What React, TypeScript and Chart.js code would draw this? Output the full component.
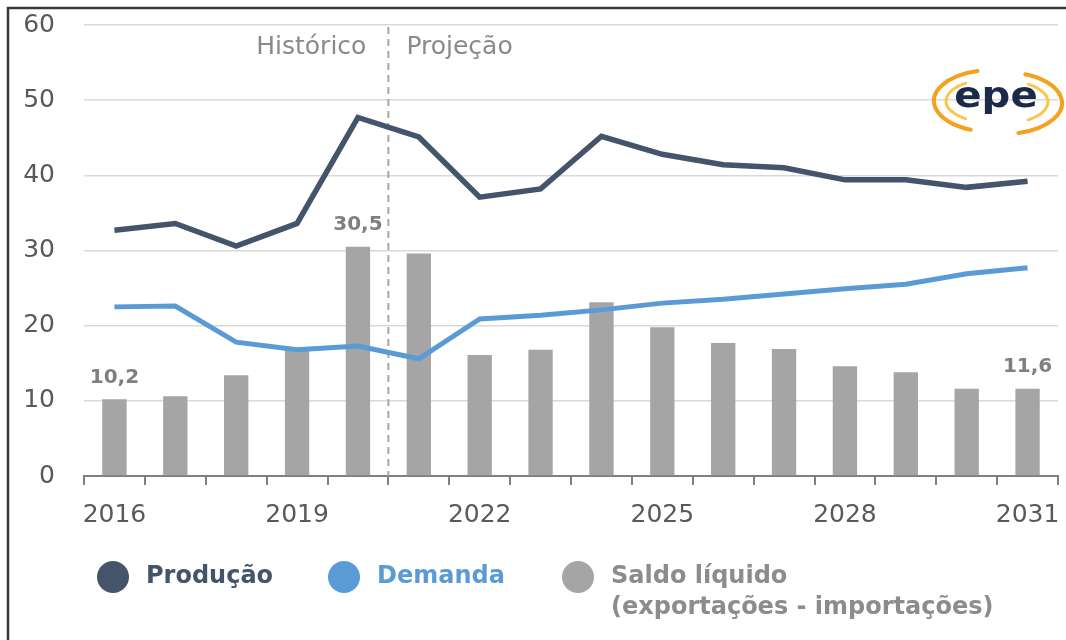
import React, { useEffect, useRef } from 'react';
import { Chart, registerables } from 'chart.js';

Chart.register(...registerables);

const years = ['2016', '2017', '2018', '2019', '2020', '2021', '2022', '2023', '2024', '2025', '2026', '2027', '2028', '2029', '2030', '2031'];
const producao = [32.7, 33.6, 30.6, 33.6, 47.7, 45.1, 37.1, 38.2, 45.2, 42.8, 41.4, 41.0, 39.4, 39.4, 38.4, 39.2];
const demanda = [22.5, 22.6, 17.8, 16.8, 17.3, 15.6, 20.9, 21.4, 22.1, 23.0, 23.5, 24.2, 24.9, 25.5, 26.9, 27.7];
const saldo = [10.2, 10.6, 13.4, 16.8, 30.5, 29.6, 16.1, 16.8, 23.1, 19.8, 17.7, 16.9, 14.6, 13.8, 11.6, 11.6];
const labeledBars = [0, 4, 15];
const seriesNames = ['Produção', 'Demanda', 'Saldo líquido', '(exportações - importações)'];
const periodLabels = ['Histórico', 'Projeção'];
const yMin = 0;
const yMax = 60;
const yStep = 10;

const C_PROD = '#44546a';
const C_DEM = '#5b9bd5';
const C_SALDO = '#a5a5a5';
const FONT = '"DejaVu Sans", sans-serif';

function drawLogo(ctx: CanvasRenderingContext2D) {
  const cx = 996;
  const cy = 101;
  ctx.save();
  ctx.lineCap = 'round';
  ctx.strokeStyle = '#f4a11d';
  ctx.lineWidth = 4;
  ctx.beginPath();
  ctx.ellipse(cx - 4, cy, 58, 31, 0, Math.PI * 1.42, Math.PI * 0.62, true);
  ctx.stroke();
  ctx.beginPath();
  ctx.ellipse(cx + 8, cy + 2, 58, 31, 0, Math.PI * 0.42, Math.PI * 1.62, true);
  ctx.stroke();
  ctx.strokeStyle = '#f9c74f';
  ctx.lineWidth = 3;
  ctx.beginPath();
  ctx.ellipse(cx - 2, cy, 48, 22, 0, Math.PI * 1.3, Math.PI * 0.7, true);
  ctx.stroke();
  ctx.beginPath();
  ctx.ellipse(cx + 4, cy + 1, 48, 22, 0, Math.PI * 0.3, Math.PI * 1.7, true);
  ctx.stroke();
  ctx.fillStyle = '#1c2a4a';
  ctx.font = 'bold 35px ' + FONT;
  ctx.textAlign = 'center';
  ctx.textBaseline = 'middle';
  ctx.save();
  ctx.translate(cx, cy - 3);
  ctx.scale(1.15, 1);
  ctx.fillText('epe', 0, 0);
  ctx.restore();
  ctx.restore();
}

const overlayPlugin = {
  id: 'overlay',
  beforeDatasetsDraw(chart: any) {
    const ctx: CanvasRenderingContext2D = chart.ctx;
    const x = chart.scales.x;
    const area = chart.chartArea;
    const lx = (x.getPixelForValue(4) + x.getPixelForValue(5)) / 2;
    ctx.save();
    ctx.strokeStyle = '#a6a6a6';
    ctx.lineWidth = 2;
    ctx.setLineDash([7, 5]);
    ctx.beginPath();
    ctx.moveTo(lx, area.top + 2);
    ctx.lineTo(lx, area.bottom);
    ctx.stroke();
    ctx.restore();
  },
  afterDraw(chart: any) {
    const ctx: CanvasRenderingContext2D = chart.ctx;
    const x = chart.scales.x;
    const y = chart.scales.y;
    const area = chart.chartArea;
    const lx = (x.getPixelForValue(4) + x.getPixelForValue(5)) / 2;
    ctx.save();

    // x tick marks at category boundaries
    ctx.strokeStyle = '#7f7f7f';
    ctx.lineWidth = 2;
    const n = years.length;
    for (let i = 0; i <= n; i++) {
      const px = Math.round(area.left + (i * (area.right - area.left)) / n);
      ctx.beginPath();
      ctx.moveTo(px, area.bottom);
      ctx.lineTo(px, area.bottom + 9);
      ctx.stroke();
    }

    ctx.fillStyle = '#8a8a8a';
    ctx.font = '25px ' + FONT;
    ctx.textBaseline = 'middle';
    ctx.textAlign = 'right';
    ctx.fillText(periodLabels[0], lx - 22, 47);
    ctx.textAlign = 'left';
    ctx.fillText(periodLabels[1], lx + 18, 47);

    ctx.fillStyle = '#7f7f7f';
    ctx.font = 'bold 20px ' + FONT;
    ctx.textAlign = 'center';
    ctx.textBaseline = 'bottom';
    labeledBars.forEach((i) => {
      const px = x.getPixelForValue(i);
      const py = y.getPixelForValue(saldo[i]);
      ctx.fillText(saldo[i].toFixed(1).replace('.', ','), px, py - 12);
    });

    const items = [
      { cx: 113, color: C_PROD, text: C_PROD, label: seriesNames[0] },
      { cx: 344, color: C_DEM, text: C_DEM, label: seriesNames[1] },
      { cx: 578, color: C_SALDO, text: '#8c8c8c', label: seriesNames[2] },
    ];
    ctx.font = 'bold 24px ' + FONT;
    ctx.textAlign = 'left';
    ctx.textBaseline = 'middle';
    items.forEach((it) => {
      ctx.fillStyle = it.color;
      ctx.beginPath();
      ctx.arc(it.cx, 577, 16, 0, Math.PI * 2);
      ctx.fill();
      ctx.fillStyle = it.text;
      ctx.fillText(it.label, it.cx + 33, 577);
    });
    ctx.fillStyle = '#8c8c8c';
    ctx.fillText(seriesNames[3], 578 + 33, 608);

    drawLogo(ctx);

    ctx.strokeStyle = '#3a3a3a';
    ctx.lineWidth = 2.5;
    ctx.setLineDash([]);
    ctx.beginPath();
    ctx.moveTo(8, 640);
    ctx.lineTo(8, 8);
    ctx.lineTo(1066, 8);
    ctx.stroke();
    ctx.restore();
  },
};

export default function App() {
  const ref = useRef<HTMLCanvasElement | null>(null);
  useEffect(() => {
    if (!ref.current) return;
    const chart = new Chart(ref.current, {
      type: 'bar',
      data: {
        labels: years,
        datasets: [
          {
            type: 'line',
            label: seriesNames[0],
            data: producao,
            borderColor: C_PROD,
            backgroundColor: C_PROD,
            borderWidth: 5.5,
            pointRadius: 0,
            tension: 0,
            order: 0,
          } as any,
          {
            type: 'line',
            label: seriesNames[1],
            data: demanda,
            borderColor: C_DEM,
            backgroundColor: C_DEM,
            borderWidth: 5,
            pointRadius: 0,
            tension: 0,
            order: 1,
          } as any,
          {
            type: 'bar',
            label: seriesNames[2],
            data: saldo,
            backgroundColor: C_SALDO,
            barPercentage: 0.4,
            categoryPercentage: 1,
            order: 2,
          },
        ],
      },
      options: {
        responsive: false,
        animation: false,
        devicePixelRatio: 1,
        layout: { padding: { top: 25, right: 8, left: 0, bottom: 0 } },
        plugins: { legend: { display: false }, tooltip: { enabled: false } },
        scales: {
          x: {
            offset: true,
            grid: {
              offset: true,
              drawOnChartArea: false,
              drawTicks: true,
              tickLength: 24,
              tickColor: 'rgba(0,0,0,0)',
            },
            border: { display: true, color: '#7f7f7f', width: 2 },
            ticks: {
              autoSkip: false,
              maxRotation: 0,
              padding: 0,
              color: '#595959',
              font: { family: FONT, size: 25 },
              callback: (_v: any, i: number) => (i % 3 === 0 ? years[i] : ''),
            },
            afterFit: (s: any) => {
              s.height = 640 - 476;
            },
          },
          y: {
            min: yMin,
            max: yMax,
            grid: { color: '#d9d9d9', lineWidth: 1.5, drawTicks: true, tickLength: 25, tickColor: 'rgba(0,0,0,0)' },
            border: { display: false },
            ticks: {
              stepSize: yStep,
              padding: 4,
              color: '#595959',
              font: { family: FONT, size: 25 },
            },
            afterFit: (s: any) => {
              s.width = 84;
            },
          },
        },
      },
      plugins: [overlayPlugin],
    });
    return () => chart.destroy();
  }, []);
  return (
    <div style={{ position: 'absolute', left: 0, top: 0, width: 1066, height: 640, background: '#fff' }}>
      <canvas ref={ref} width={1066} height={640} style={{ display: 'block' }} />
    </div>
  );
}
